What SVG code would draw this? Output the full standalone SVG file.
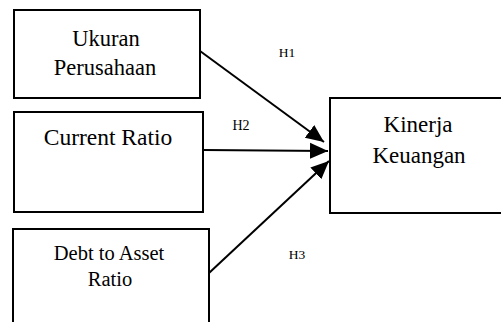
<svg xmlns="http://www.w3.org/2000/svg" width="501" height="322" viewBox="0 0 501 322">
<style>
.box{fill:#fff;stroke:#000;stroke-width:2}
.t{fill:#000;text-anchor:middle;font-family:'Liberation Serif',serif}
.c{stroke:#000;stroke-width:2;fill:none}
</style>
<defs>
<marker id="ah" markerUnits="userSpaceOnUse" markerWidth="20" markerHeight="20" viewBox="0 0 20 20" refX="18" refY="10" orient="auto">
<path d="M0,2 L18,10 L0,18 Z" fill="#000"/>
</marker>
</defs>
<rect width="501" height="322" fill="#fff"/>
<g id="ukuran">
<rect class="box" x="14" y="10" width="186" height="88"/>
<text class="t" x="106" y="46" font-size="22.5">Ukuran</text>
<text class="t" x="105" y="75" font-size="22.5">Perusahaan</text>
</g>
<g id="current">
<rect class="box" x="14" y="112" width="189" height="100"/>
<text class="t" x="108" y="145" font-size="23.5">Current Ratio</text>
</g>
<g id="debt">
<rect class="box" x="13" y="229" width="196" height="100"/>
<text class="t" x="109" y="260" font-size="20.5">Debt to Asset</text>
<text class="t" x="110" y="286" font-size="20.5">Ratio</text>
</g>
<g id="kinerja">
<rect class="box" x="330" y="98" width="180" height="115"/>
<text class="t" x="418" y="132" font-size="23">Kinerja</text>
<text class="t" x="419" y="163" font-size="23">Keuangan</text>
</g>
<g id="connectors">
<line class="c" x1="200" y1="51" x2="324" y2="142" marker-end="url(#ah)"/>
<line class="c" x1="204" y1="150" x2="328" y2="151" marker-end="url(#ah)"/>
<line class="c" x1="209" y1="273" x2="329" y2="161" marker-end="url(#ah)"/>
</g>
<g id="labels">
<text class="t" x="287" y="57" font-size="13.5">H1</text>
<text class="t" x="241" y="130" font-size="14">H2</text>
<text class="t" x="297" y="259" font-size="13.5">H3</text>
</g>
</svg>
